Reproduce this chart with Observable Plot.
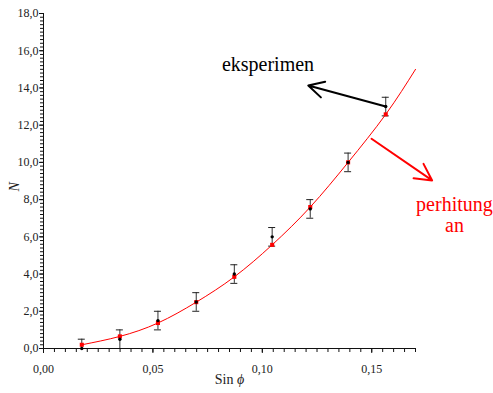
<!DOCTYPE html>
<html><head><meta charset="utf-8">
<script src="https://cdn.jsdelivr.net/npm/d3@7"></script>
<script src="https://cdn.jsdelivr.net/npm/@observablehq/plot@0.6"></script>
<style>
html,body{margin:0;padding:0;background:#fff;overflow:hidden}
svg, svg text { font-family: "Liberation Serif", "DejaVu Serif", serif !important; }
</style>
</head><body><div id="chart"></div>
<script>
// ---- data ----
const sinPhi = [0.0175, 0.0349, 0.0523, 0.0698, 0.0872, 0.1045, 0.1219, 0.1392, 0.1564];
const nExp   = [0, 0.5, 1.5, 2.5, 4, 6, 7.5, 10, 13];
const nErr   = [0.5, 0.5, 0.5, 0.5, 0.5, 0.5, 0.5, 0.5, 0.5];
const nCalc  = [0.2, 0.65, 1.37, 2.49, 3.85, 5.57, 7.6, 10.0, 12.58];
const curveX = [0.0175, 0.0349, 0.0523, 0.0698, 0.0872, 0.1045, 0.1219, 0.1392, 0.1564, 0.17];
const curveN = [0.2, 0.65, 1.37, 2.49, 3.85, 5.57, 7.6, 10.0, 12.58, 15.0];
const xTicks = [0, 0.05, 0.10, 0.15];
const xTickLabels = ["0,00", "0,05", "0,10", "0,15"];
const yTicks = [0, 2, 4, 6, 8, 10, 12, 14, 16, 18];
const yTickLabels = ["0,0", "2,0", "4,0", "6,0", "8,0", "10,0", "12,0", "14,0", "16,0", "18,0"];
const xTitle = "Sin ϕ";
const yTitle = "N";
const labelExp = "eksperimen";
const labelCalc = ["perhitung", "an"];

// annotation anchors (data units)
const expArrow = [{x1: 0.1564, y1: 13.0, x2: 0.121, y2: 14.13}];
const calcArrow = [{x1: 0.1499, y1: 11.27, x2: 0.1776, y2: 9.03}];
const expText = [{x: 0.1026, y: 15.28, t: labelExp}];
const calcText = [{x: 0.1878, y: 7.71, t: labelCalc[0]}, {x: 0.1878, y: 6.63, t: labelCalc[1]}];

const expData = sinPhi.map((x, i) => ({x, n: nExp[i], lo: Math.max(0, nExp[i] - nErr[i]), hi: nExp[i] + nErr[i]}));
const calcData = sinPhi.map((x, i) => ({x, n: nCalc[i]}));
const curveData = curveX.map((x, i) => ({x, n: curveN[i]}));
const capHalf = 0.0016;

const minorX = d3.range(0, 0.1701, 0.005);
const minorY = d3.range(0, 18.001, 0.2);
const serif = "'Liberation Serif', 'DejaVu Serif', serif";

const plot = Plot.plot({
  width: 493, height: 393,
  marginLeft: 43, marginRight: 78, marginTop: 13, marginBottom: 45,
  style: {fontFamily: serif, background: "#fff", overflow: "visible"},
  x: {domain: [0, 0.17]},
  y: {domain: [0, 18]},
  marks: [
    // axes
    Plot.axisY({ticks: minorY, tickSize: 3, tickFormat: () => "", label: null, stroke: "#111"}),
    Plot.axisY({ticks: yTicks, tickSize: 4, tickPadding: 1, tickFormat: (d) => yTickLabels[yTicks.indexOf(d)], label: null, fontSize: 12, fontFamily: serif, fill: "#222", stroke: "#111"}),
    Plot.axisX({ticks: minorX, tickSize: 4, tickFormat: () => "", label: null, stroke: "#111"}),
    Plot.axisX({ticks: xTicks, tickSize: 5, tickPadding: 11, tickFormat: (d) => xTickLabels[xTicks.indexOf(d)], label: null, fontSize: 12, fontFamily: serif, fill: "#222", stroke: "#111"}),
    Plot.ruleX([0], {stroke: "#111"}),
    Plot.ruleY([0], {stroke: "#111"}),
    Plot.text([xTitle], {frameAnchor: "bottom", dy: 35, fontSize: 14, fontFamily: serif, fill: "#222"}),
    Plot.text([yTitle], {frameAnchor: "left", dx: -29, dy: 10.5, rotate: -90, fontSize: 14, fontFamily: serif, fontStyle: "italic", fill: "#222"}),
    // calculated curve
    Plot.line(curveData, {x: "x", y: "n", stroke: "#ff0000", strokeWidth: 1, curve: "natural"}),
    // error bars
    Plot.ruleX(expData, {x: "x", y1: "lo", y2: "hi", stroke: "#333", strokeWidth: 1}),
    Plot.ruleY(expData, {y: "hi", x1: (d) => d.x - capHalf, x2: (d) => d.x + capHalf, stroke: "#222", strokeWidth: 1}),
    Plot.ruleY(expData.filter(d => d.lo > 0), {y: "lo", x1: (d) => d.x - capHalf, x2: (d) => d.x + capHalf, stroke: "#222", strokeWidth: 1}),
    Plot.dot(calcData, {x: "x", y: "n", symbol: "square", r: 2.3, fill: "#ff0000", stroke: "none"}),
    Plot.dot(expData, {x: "x", y: "n", r: 1.7, fill: "#000", stroke: "none"}),
    // annotations
    Plot.arrow(expArrow, {x1: "x1", y1: "y1", x2: "x2", y2: "y2", stroke: "#000", strokeWidth: 2, headLength: 13, headAngle: 56, inset: 0}),
    Plot.arrow(calcArrow, {x1: "x1", y1: "y1", x2: "x2", y2: "y2", stroke: "#ff0000", strokeWidth: 2, headLength: 14, headAngle: 56, inset: 0}),
    Plot.text(expText, {x: "x", y: "y", text: "t", fontSize: 20, fontFamily: serif, fill: "#000"}),
    Plot.text(calcText, {x: "x", y: "y", text: "t", fontSize: 20, fontFamily: serif, fill: "#ff0000"})
  ]
});

d3.select(plot).selectAll("text").filter(function() { return this.textContent === xTitle; })
  .each(function() {
    const t = d3.select(this);
    t.text(null);
    t.append("tspan").text("Sin ");
    t.append("tspan").attr("font-style", "italic").text("ϕ");
  });

document.getElementById("chart").appendChild(plot);
</script>
</body></html>
